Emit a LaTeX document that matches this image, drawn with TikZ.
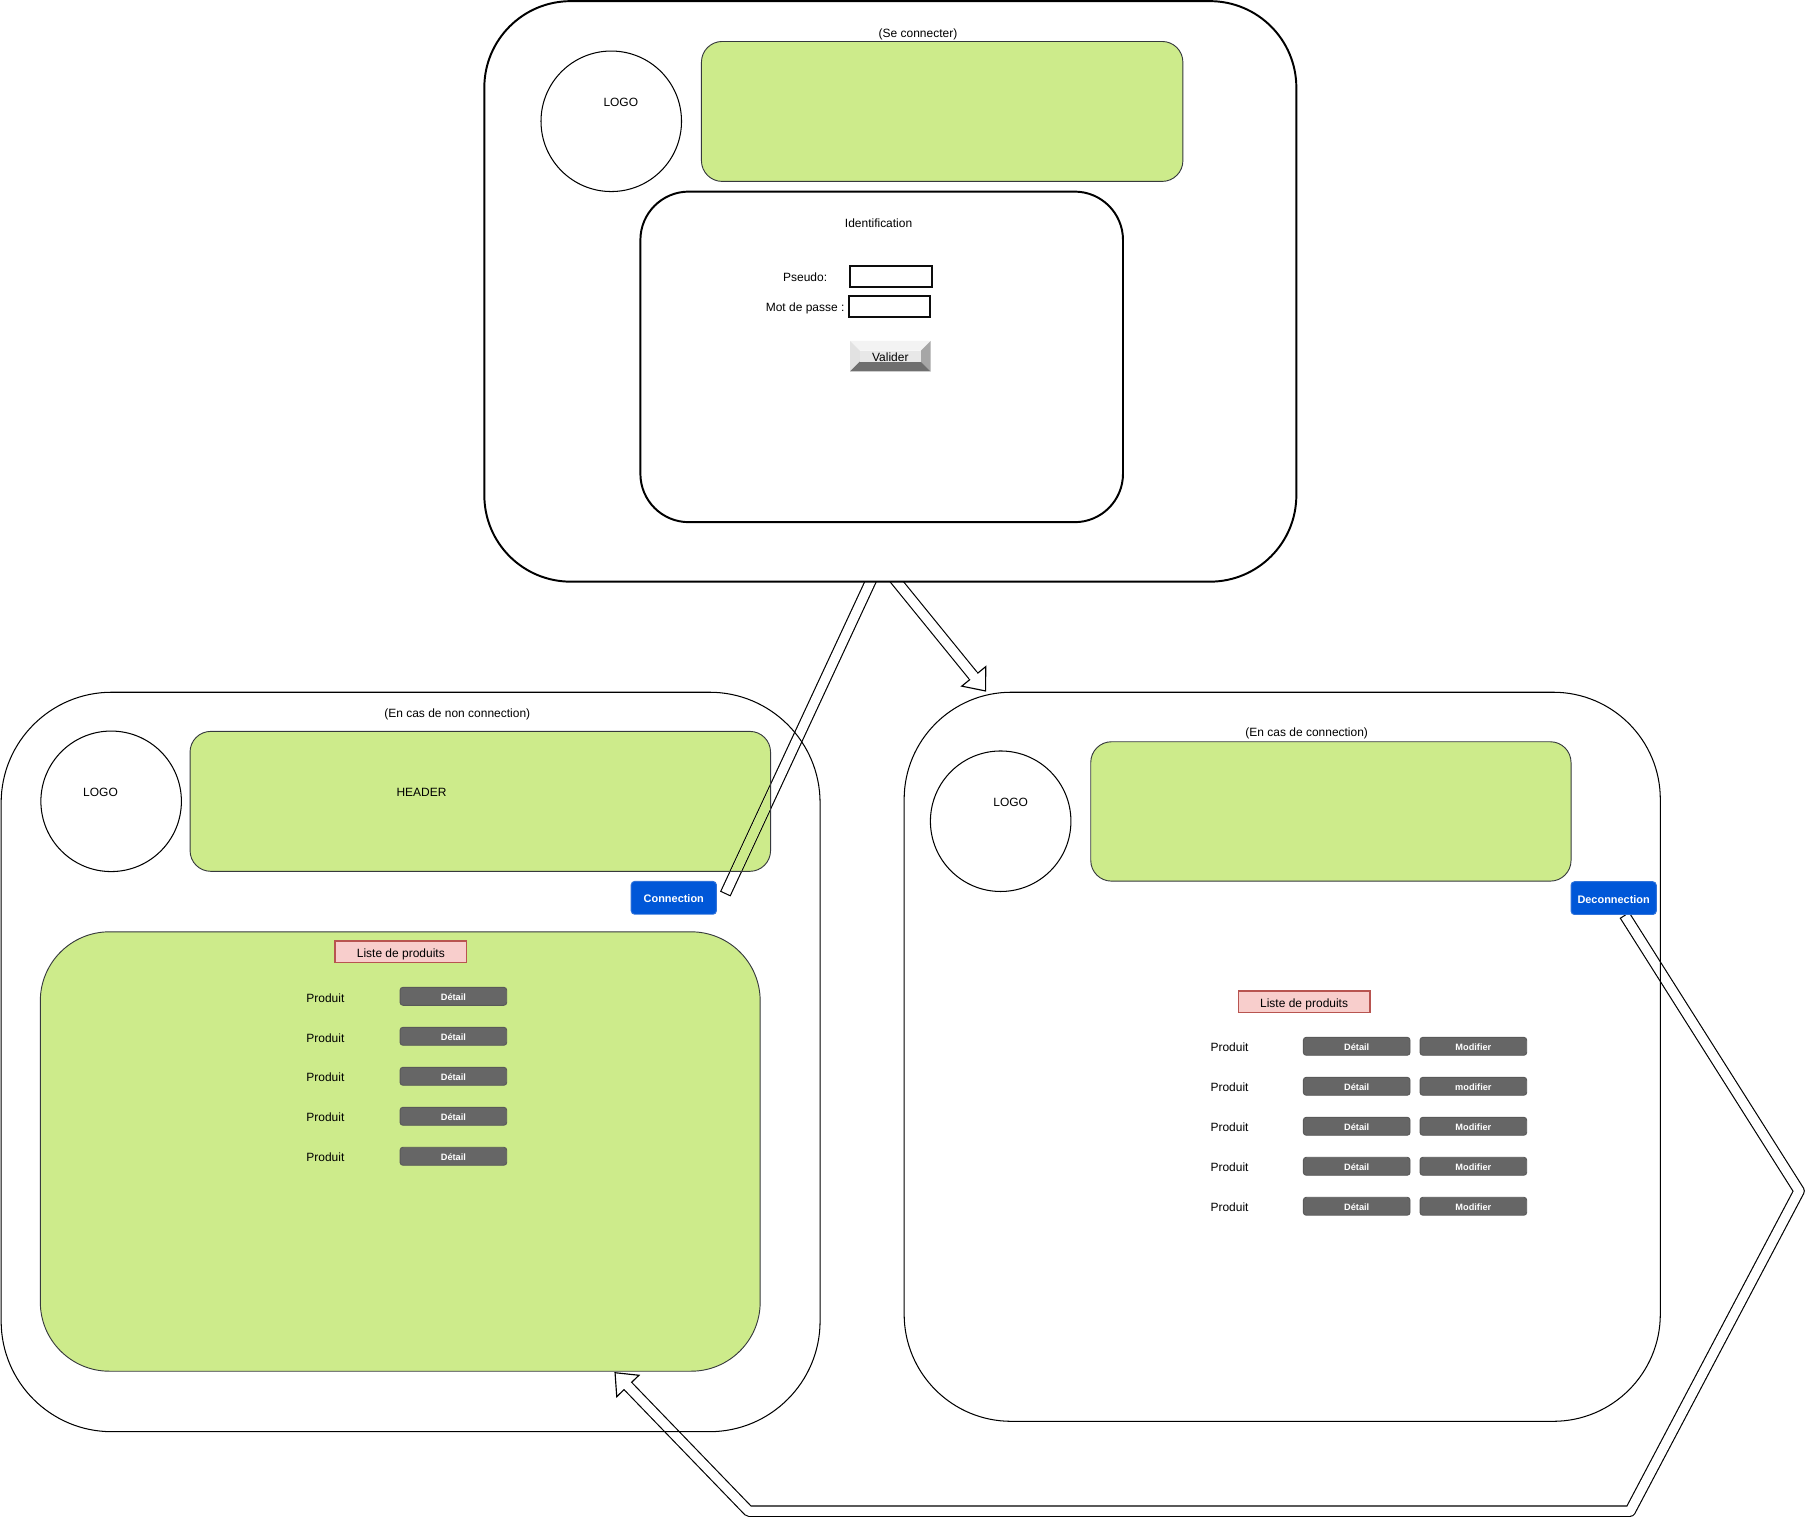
\documentclass[tikz,border=0pt]{standalone}
\usepackage{fontspec}
\setmainfont{Liberation Sans}
\usetikzlibrary{calc}
\pgfdeclarelayer{fills}
\pgfdeclarelayer{links}
\pgfsetlayers{fills,links,main}

\definecolor{leaf}{HTML}{CDEB8B}
\definecolor{leafline}{HTML}{36393D}
\definecolor{btngray}{HTML}{666666}
\definecolor{btnedge}{HTML}{595959}
\definecolor{actionblue}{HTML}{0057D8}
\definecolor{blueedge}{HTML}{2F72DA}
\definecolor{rosefill}{HTML}{F8CECC}
\definecolor{roseline}{HTML}{B85450}
\definecolor{bevtop}{HTML}{F3F3F3}
\definecolor{bevleft}{HTML}{E2E2E2}
\definecolor{bevface}{HTML}{E8E8E8}
\definecolor{bevright}{HTML}{A6A6A6}
\definecolor{bevbottom}{HTML}{6F6F6F}

% open arrowhead of a wide hollow arrow: base point #1, tip #2
\newcommand\flexhead[2]{%
  \draw[line width=1pt, fill=white, line join=miter]
    ($(#1)!13.4pt!90:(#2)$) -- (#2) -- ($(#1)!13.4pt!-90:(#2)$) -- cycle;
  \draw[line width=8pt, white] ($(#1)!-1.5pt!(#2)$) -- ($(#1)!2.5pt!(#2)$);
}

\begin{document}
\begin{tikzpicture}[x=1pt, y=-1pt,
  every node/.style={inner sep=0pt, outer sep=0pt},
  lbl/.style={font=\fontsize{10.4}{12}\selectfont, text height=9.3pt, text depth=0pt},
  pagethin/.style={draw=black, line width=0.9pt, rectangle},
  pagebold/.style={draw=black, line width=1.7pt, rectangle},
  leafbox/.style={draw=leafline, line width=0.8pt, rounded corners=18pt},
  logo/.style={circle, draw=black, line width=0.9pt, minimum size=122pt},
  field/.style={draw=black!95, line width=1.7pt, minimum height=18pt},
  smallbtn/.style={draw=btnedge, fill=btngray, line width=0.8pt, rounded corners=2.5pt,
    minimum width=92.6pt, minimum height=15.6pt, text=white,
    font=\bfseries\fontsize{8}{9}\selectfont, text height=7.4pt, text depth=0pt},
  bluebtn/.style={draw=blueedge, fill=actionblue, line width=0.8pt, rounded corners=3pt,
    minimum width=74pt, minimum height=28.5pt, text=white,
    font=\bfseries\fontsize{9.5}{11}\selectfont, text height=8.6pt, text depth=0pt},
  listtag/.style={lbl, draw=roseline, fill=rosefill, line width=1.4pt,
    minimum width=114pt, minimum height=18.5pt},
  shaft/.style={line width=10pt, black, line join=round},
  shaftin/.style={line width=8pt, white, line join=round}
]
\useasboundingbox (0,0) rectangle (1568,1317);

% ---------------- login page ----------------
\node[pagebold, rounded corners=75pt, minimum width=705pt, minimum height=504pt] (A) at (773,253) {};
\node[lbl] (titleA) at (797,27.6) {(Se connecter)};
\node[logo] (logoA) at (530.7,105.3) {};
\node[lbl] (logoAtxt) at (539,88) {LOGO};
\node[leafbox, minimum width=418pt, minimum height=121.5pt] (hdA) at (818,96.75) {};
\node[pagebold, rounded corners=42pt, minimum width=419pt, minimum height=287pt] (ident) at (765.5,309.85) {};
\node[lbl] (identtxt) at (762.8,193) {Identification};
\node[lbl] (pseudotxt) at (699,240) {Pseudo:};
\node[field, minimum width=71pt] (pseudo) at (773.5,240) {};
\node[lbl] (mdptxt) at (699,266) {Mot de passe :};
\node[field, line width=2.1pt, minimum width=70.5pt] (mdp) at (772.25,266) {};

% bevelled submit button
\node[minimum width=70pt, minimum height=26.5pt] (valider) at (773,309.25) {};
\begin{scope}[shift={(valider.north west)}]
  \fill[bevtop] (0,0) -- (70,0) -- (61.5,8.5) -- (8.5,8.5) -- cycle;
  \fill[bevleft] (0,0) -- (8.5,8.5) -- (8.5,18) -- (0,26.5) -- cycle;
  \fill[bevright] (70,0) -- (70,26.5) -- (61.5,18) -- (61.5,8.5) -- cycle;
  \fill[bevbottom] (0,26.5) -- (70,26.5) -- (61.5,18) -- (8.5,18) -- cycle;
  \fill[bevface] (8.5,8.5) rectangle (61.5,18);
\end{scope}
\node[lbl] (validertxt) at (773,309.6) {Valider};

% ---------------- page, visitor not logged in ----------------
\node[pagethin, rounded corners=96pt, minimum width=711pt, minimum height=642pt] (B) at (356.5,922) {};
\node[lbl] (titleB) at (397,618.2) {(En cas de non connection)};
\node[logo] (logoB) at (96.5,695.7) {};
\node[lbl] (logoBtxt) at (87.3,687.3) {LOGO};
\node[leafbox, minimum width=504pt, minimum height=121.5pt] (hdB) at (417,695.75) {};
\node[lbl] (hdBtxt) at (366,687.3) {HEADER};
\node[bluebtn] (conn) at (585,779.5) {Connection};
\node[leafbox, rounded corners=60pt, minimum width=625pt, minimum height=381.5pt] (prods) at (347.5,999.75) {};
\node[listtag] (listB) at (348,826.25) {Liste de produits};
\foreach \i in {0,...,4}{
  \node[lbl] (prodB\i) at (282.5,{865.3+34.72*\i}) {Produit};
  \node[smallbtn] (detB\i) at (393.65,{865+34.72*\i}) {Détail};
}

% ---------------- page, user logged in ----------------
\node[pagethin, rounded corners=93pt, minimum width=656.5pt, minimum height=633pt] (C) at (1113.25,917.5) {};
\node[lbl] (titleC) at (1134.5,635.2) {(En cas de connection)};
\node[logo] (logoC) at (868.8,713) {};
\node[lbl] (logoCtxt) at (877.5,695.5) {LOGO};
\node[leafbox, minimum width=417pt, minimum height=121pt] (hdC) at (1155.5,704.5) {};
\node[bluebtn] (deco) at (1401,779.75) {Deconnection};
\node[listtag] (listC) at (1132.25,869.75) {Liste de produits};
\foreach \i/\m in {0/Modifier,1/modifier,2/Modifier,3/Modifier,4/Modifier}{
  \node[lbl] (prodC\i) at (1067.5,{908.7+34.72*\i}) {Produit};
  \node[smallbtn] (detC\i) at (1177.9,{908.4+34.72*\i}) {Détail};
  \node[smallbtn] (modC\i) at (1279.2,{908.4+34.72*\i}) {\m};
}

% ---------------- green fills ----------------
\begin{pgfonlayer}{fills}
  \foreach \b in {hdA,hdB,hdC}
    \fill[leaf, rounded corners=18pt] (\b.south west) rectangle (\b.north east);
  \fill[leaf, rounded corners=60pt] (prods.south west) rectangle (prods.north east);
\end{pgfonlayer}

% ---------------- hollow arrows ----------------
\begin{pgfonlayer}{links}
  \coordinate (a1s) at ($(A.south)+(-12.55,-10)$);
  \coordinate (a1e) at ($(conn.east)+(7.7,-3.3)$);
  \coordinate (a2s) at ($(A.south)+(-2.6,-10)$);
  \coordinate (tip2) at ($(C.north west)+(70.7,-1.1)$);
  \coordinate (hb2) at ($(tip2)!16.3pt!(a2s)$);
  \coordinate (a3s) at ($(deco.south)+(9.4,0.4)$);
  \coordinate (k1) at (1562,1034);
  \coordinate (k2) at (1415.3,1312);
  \coordinate (k3) at (650,1312);
  \coordinate (tip3) at ($(prods.south)+(186.5,1.3)$);
  \coordinate (hb3) at ($(tip3)!16pt!(k3)$);

  \begin{scope}
    \clip (0,505) rectangle (1568,1317);
    \draw[shaft] (a1s) -- (a1e);
    \draw[shaftin, shorten >=1pt] (a1s) -- (a1e);
    \draw[shaft] (a2s) -- (hb2);
    \draw[shaftin] (a2s) -- (hb2);
  \end{scope}
  \begin{scope}
    \clip[rounded corners=18pt] (hdB.south west) rectangle (hdB.north east);
    \draw[line width=8pt, leaf] (a1s) -- (a1e);
  \end{scope}
  \flexhead{hb2}{tip2}

  \draw[shaft] (a3s) -- (k1) -- (k2) -- (k3) -- (hb3);
  \draw[shaftin, shorten <=1pt] (a3s) -- (k1) -- (k2) -- (k3) -- (hb3);
  \flexhead{hb3}{tip3}
\end{pgfonlayer}
\end{tikzpicture}
\end{document}
